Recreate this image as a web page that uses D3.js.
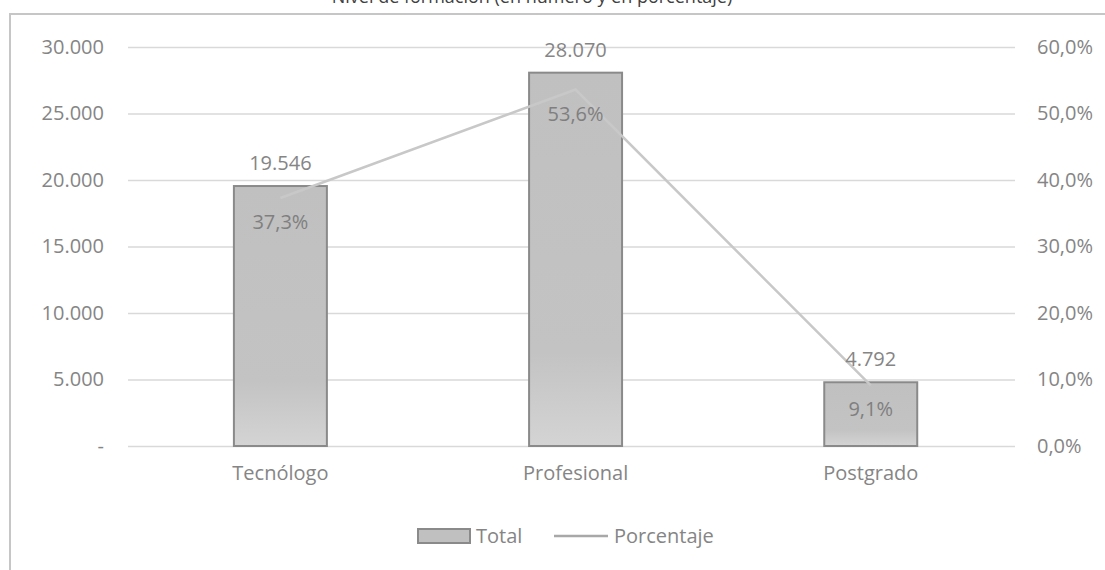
<!DOCTYPE html>
<html>
<head>
<meta charset="utf-8">
<script src="https://cdn.jsdelivr.net/npm/d3@7"></script>
<style>
body { margin: 0; background: #fff; }
text { font-family: "Open Sans", sans-serif; fill: #858585; }
</style>
</head>
<body>
<svg width="1105" height="570"></svg>
<script>
var categories = ['Tecnólogo', 'Profesional', 'Postgrado'];
var totals = [19546, 28070, 4792];
var percents = [0.373, 0.536, 0.091];
var leftTicks = [0, 5000, 10000, 15000, 20000, 25000, 30000];
var rightTicks = [0, 0.1, 0.2, 0.3, 0.4, 0.5, 0.6];

var svg = d3.select('svg');

var es = d3.formatLocale({decimal: ',', thousands: '.', grouping: [3], currency: ['$', '']});
var fmtNum = es.format(',d');
var fmtPct = es.format('.1%');

// frame of the chart area
svg.append('rect')
    .attr('x', 10).attr('y', 14)
    .attr('width', 1120).attr('height', 600)
    .attr('fill', 'none')
    .attr('stroke', '#c6c6c6')
    .attr('stroke-width', 2);

// title, cut off at the top like in the picture
svg.append('text')
    .text('Nivel de formación (en número y en porcentaje)')
    .attr('x', 532).attr('y', 3)
    .attr('text-anchor', 'middle')
    .style('font-size', '18px')
    .style('fill', '#404040');

var plotL = 128, plotR = 1015, plotT = 47, plotB = 446;

var x = d3.scaleBand().domain(categories).range([plotL, plotR])
    .paddingInner(0.685).paddingOuter(0.345).align(0.52);
var y = d3.scaleLinear().domain([0, 30000]).range([plotB, plotT]);
var y2 = d3.scaleLinear().domain([0, 0.6]).range([plotB, plotT]);

// gridlines
svg.append('g')
    .attr('transform', 'translate(' + plotL + ',0)')
    .call(d3.axisLeft(y).tickValues(leftTicks).tickSize(-(plotR - plotL)).tickFormat(''))
    .call(function(g){
        g.select('.domain').remove();
        g.selectAll('line').attr('stroke', '#d9d9d9').attr('stroke-width', 1.5);
    });

// left axis labels
svg.append('g')
    .attr('transform', 'translate(104,0)')
    .call(d3.axisLeft(y).tickValues(leftTicks).tickSize(0).tickPadding(0)
        .tickFormat(function(d){ return d == 0 ? '-' : fmtNum(d); }))
    .call(function(g){
        g.select('.domain').remove();
        g.selectAll('text').style('font-size', '20px').style('font-family', '"Open Sans", sans-serif').attr('fill', '#888888');
    });

// right axis labels
svg.append('g')
    .attr('transform', 'translate(1037,0)')
    .call(d3.axisRight(y2).tickValues(rightTicks).tickSize(0).tickPadding(0).tickFormat(fmtPct))
    .call(function(g){
        g.select('.domain').remove();
        g.selectAll('text').style('font-size', '20px').style('font-family', '"Open Sans", sans-serif').attr('fill', '#888888');
    });

// category labels
svg.append('g')
    .attr('transform', 'translate(0,' + plotB + ')')
    .call(d3.axisBottom(x).tickSize(0).tickPadding(20))
    .call(function(g){
        g.select('.domain').remove();
        g.selectAll('text').style('font-size', '20px').style('font-family', '"Open Sans", sans-serif').attr('fill', '#767676');
    });

var grad = svg.append('defs').append('linearGradient')
    .attr('id', 'barGrad').attr('x1', 0).attr('y1', 0).attr('x2', 0).attr('y2', 1);
grad.append('stop').attr('offset', '0%').attr('stop-color', '#c0c0c0');
grad.append('stop').attr('offset', '75%').attr('stop-color', '#c3c3c3');
grad.append('stop').attr('offset', '100%').attr('stop-color', '#d4d4d4');

// bars
svg.selectAll('.bar')
    .data(totals)
    .enter()
    .append('rect')
    .attr('class', 'bar')
    .attr('x', function(d, i){ return x(categories[i]); })
    .attr('y', function(d){ return y(d); })
    .attr('width', x.bandwidth())
    .attr('height', function(d){ return plotB - y(d); })
    .attr('fill', 'url(#barGrad)')
    .attr('stroke', '#8a8a8a')
    .attr('stroke-width', 2);

// percentage line
var line = d3.line()
    .x(function(d, i){ return x(categories[i]) + x.bandwidth() / 2; })
    .y(function(d){ return y2(d); });

svg.append('path')
    .datum(percents)
    .attr('d', line)
    .attr('fill', 'none')
    .attr('stroke', '#c8c8c8')
    .attr('stroke-width', 2.5);

// total labels
svg.selectAll('.totLabel')
    .data(totals)
    .enter()
    .append('text')
    .attr('x', function(d, i){ return x(categories[i]) + x.bandwidth() / 2; })
    .attr('y', function(d){ return y(d) - 16; })
    .attr('text-anchor', 'middle')
    .style('font-size', '20px')
    .text(function(d){ return fmtNum(d); });

// percentage labels
svg.selectAll('.pctLabel')
    .data(percents)
    .enter()
    .append('text')
    .attr('x', function(d, i){ return x(categories[i]) + x.bandwidth() / 2; })
    .attr('y', function(d){ return y2(d) + 31; })
    .attr('text-anchor', 'middle')
    .style('font-size', '20px')
    .style('fill', '#7f7f7f')
    .text(function(d){ return fmtPct(d); });

// legend
svg.append('rect')
    .attr('x', 418).attr('y', 529).attr('width', 52).attr('height', 14)
    .attr('fill', '#c0c0c0').attr('stroke', '#8a8a8a').attr('stroke-width', 2);
svg.append('text').text('Total')
    .attr('x', 476).attr('y', 543).style('font-size', '20px');
svg.append('line')
    .attr('x1', 554).attr('x2', 608).attr('y1', 536).attr('y2', 536)
    .attr('stroke', '#a8a8a8').attr('stroke-width', 2.5);
svg.append('text').text('Porcentaje')
    .attr('x', 614).attr('y', 543).style('font-size', '20px');
</script>
</body>
</html>
